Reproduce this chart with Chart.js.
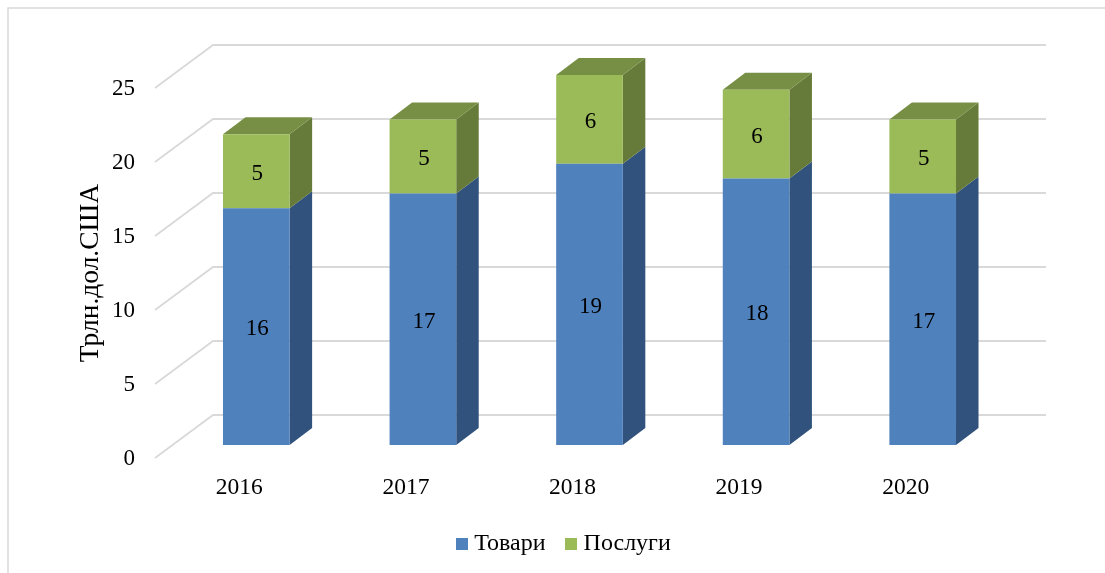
<!DOCTYPE html>
<html lang="uk">
<head>
    <meta charset="UTF-8">
    <title>Трлн.дол.США</title>
    <script src="https://cdn.jsdelivr.net/npm/chart.js"></script>
    <style>
        body { margin: 0; background: #fff; }
        canvas { display: block; }
    </style>
</head>
<body>
    <canvas id="tradeChart" width="1105" height="573"></canvas>
    <script>
        const years = ['2016', '2017', '2018', '2019', '2020'];
        const goods = [16, 17, 19, 18, 17];
        const services = [5, 5, 6, 6, 5];

        const FONT = '"Liberation Serif", serif';
        const GRID = '#d9d9d9';
        // depth of the bars and of the fake 3d floor, in pixels
        const BAR_DX = 22.5, BAR_DY = 17;
        const WALL_DX = 40, WALL_DY = 30;
        const FLOOR_DX = 18, FLOOR_DY = 13;

        const faces = [
            { side: '#31527c', top: '#3f6797' },
            { side: '#667b39', top: '#778f45' }
        ];

        function square(color) {
            const c = document.createElement('canvas');
            c.width = 12;
            c.height = 12;
            const g = c.getContext('2d');
            g.fillStyle = color;
            g.fillRect(0, 0, 12, 12);
            return c;
        }

        function poly(ctx, pts, color) {
            ctx.fillStyle = color;
            ctx.beginPath();
            pts.forEach((p, i) => i ? ctx.lineTo(p[0], p[1]) : ctx.moveTo(p[0], p[1]));
            ctx.closePath();
            ctx.fill();
        }

        const fake3d = {
            id: 'fake3d',
            afterLayout(chart) {
                // legend and axis title are not centred on the plot in the original
                chart.legend.left += 26;
                chart.legend.right += 26;
                chart.legend.top -= 7;
                chart.legend.bottom -= 7;
                chart.scales.y.top += 13;
                chart.scales.y.bottom += 13;
            },
            beforeDraw(chart) {
                const ctx = chart.ctx;
                ctx.save();
                ctx.strokeStyle = GRID;
                ctx.lineWidth = 1.5;
                ctx.beginPath();
                ctx.moveTo(8, chart.height);
                ctx.lineTo(8, 8);
                ctx.lineTo(chart.width, 8);
                ctx.stroke();
                ctx.restore();
            },
            beforeDatasetsDraw(chart) {
                const ctx = chart.ctx;
                const area = chart.chartArea;
                const y = chart.scales.y;
                ctx.save();
                ctx.strokeStyle = GRID;
                ctx.lineWidth = 1.8;
                y.ticks.forEach(t => {
                    const p = y.getPixelForValue(t.value);
                    ctx.beginPath();
                    ctx.moveTo(area.left - FLOOR_DX, p + FLOOR_DY);
                    ctx.lineTo(area.left + WALL_DX, p - WALL_DY);
                    ctx.lineTo(area.right + WALL_DX, p - WALL_DY);
                    ctx.stroke();
                });
                chart.data.datasets.forEach((ds, i) => {
                    chart.getDatasetMeta(i).data.forEach(bar => {
                        const r = bar.x + bar.width / 2;
                        const l = bar.x - bar.width / 2;
                        poly(ctx, [[r, bar.y], [r + BAR_DX, bar.y - BAR_DY],
                            [r + BAR_DX, bar.base - BAR_DY], [r, bar.base]], faces[i].side);
                        if (i === chart.data.datasets.length - 1) {
                            poly(ctx, [[l, bar.y], [l + BAR_DX, bar.y - BAR_DY],
                                [r + BAR_DX, bar.y - BAR_DY], [r, bar.y]], faces[i].top);
                        }
                    });
                });
                ctx.restore();
            },
            afterDatasetsDraw(chart) {
                const ctx = chart.ctx;
                ctx.save();
                ctx.fillStyle = '#000';
                ctx.font = '23px ' + FONT;
                ctx.textAlign = 'center';
                ctx.textBaseline = 'middle';
                chart.data.datasets.forEach((ds, i) => {
                    chart.getDatasetMeta(i).data.forEach((bar, j) => {
                        ctx.fillText(ds.data[j], bar.x + 1, (bar.y + bar.base) / 2 + 2.5);
                    });
                });
                ctx.restore();
            }
        };

        new Chart(document.getElementById('tradeChart'), {
            type: 'bar',
            data: {
                labels: years,
                datasets: [
                    { label: 'Товари', data: goods, backgroundColor: '#4f81bd', barPercentage: 0.4, categoryPercentage: 1, clip: false },
                    { label: 'Послуги', data: services, backgroundColor: '#9bbb59', barPercentage: 0.4, categoryPercentage: 1, clip: false }
                ]
            },
            options: {
                responsive: false,
                animation: false,
                layout: { padding: { left: 74, right: 99, top: 75, bottom: 0 } },
                scales: {
                    x: {
                        stacked: true,
                        grid: { display: false, drawTicks: false },
                        border: { display: false },
                        ticks: {
                            color: '#000',
                            font: { family: FONT, size: 23.5 },
                            padding: 29,
                            labelOffset: -17,
                            maxRotation: 0,
                            autoSkip: false
                        },
                        afterFit(scale) { scale.height = 69; }
                    },
                    y: {
                        stacked: true,
                        min: 0,
                        max: 25,
                        grid: { display: false, drawTicks: false },
                        border: { display: false },
                        ticks: {
                            stepSize: 5,
                            color: '#000',
                            font: { family: FONT, size: 23 },
                            padding: 38,
                            labelOffset: 14
                        },
                        title: {
                            display: true,
                            text: 'Трлн.дол.США',
                            color: '#000',
                            font: { family: FONT, size: 27.5 },
                            padding: 0
                        },
                        afterFit(scale) { scale.width = 99; }
                    }
                },
                plugins: {
                    tooltip: { enabled: false },
                    legend: {
                        position: 'bottom',
                        onClick: null,
                        labels: {
                            color: '#000',
                            font: { family: FONT, size: 24 },
                            usePointStyle: true,
                            pointStyleWidth: 1,
                            boxHeight: 12,
                            padding: 25,
                            generateLabels(chart) {
                                return chart.data.datasets.map((ds, i) => ({
                                    text: ds.label,
                                    fontColor: '#000',
                                    datasetIndex: i,
                                    lineWidth: 0,
                                    pointStyle: square(ds.backgroundColor)
                                }));
                            }
                        }
                    }
                }
            },
            plugins: [fake3d]
        });
    </script>
</body>
</html>
